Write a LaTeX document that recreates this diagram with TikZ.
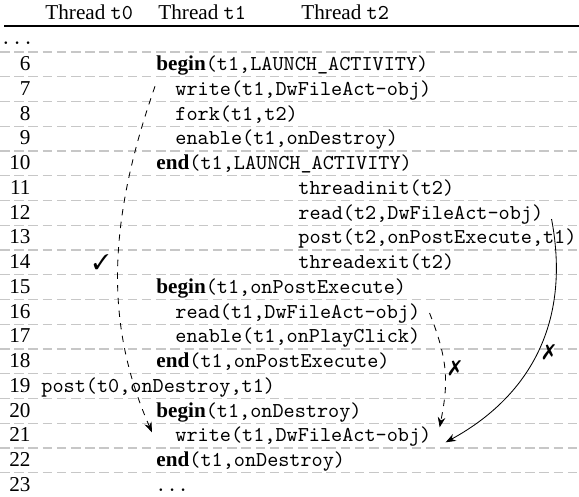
\documentclass[tikz,border=0pt]{standalone}
\usepackage{fontspec}
\setmainfont{Liberation Serif}
\usepackage{pifont}
\usetikzlibrary{arrows.meta}

\newcommand{\evbegin}[1]{\textbf{begin}\texttt{(#1)}}
\newcommand{\evend}[1]{\textbf{end}\texttt{(#1)}}

\begin{document}
\begin{tikzpicture}[>=Stealth, x=0.472pt, y=-0.472pt,
  num/.style={anchor=base east, inner sep=0pt},
  ev/.style={anchor=base west, inner sep=0pt},
  code/.style={anchor=base west, inner sep=0pt, font=\ttfamily},
  sep/.style={black!22, line width=0.5pt, dash pattern=on 4.5pt off 2.2pt},
  verdict/.style={inner sep=0pt}]
  \useasboundingbox (0,0) rectangle (579,496);

  % Header
  \node[ev] (h0) at (45,19) {Thread \texttt{t0}};
  \node[ev] (h1) at (158,19) {Thread \texttt{t1}};
  \node[ev] (h2) at (301,19) {Thread \texttt{t2}};
  \draw[line width=0.6pt] (4,26) -- (579,26);

  % Row separators and line numbers
  \foreach \k in {6,...,23}{
    \draw[sep] (0,{52+(\k-6)*24.75}) -- (579,{52+(\k-6)*24.75});
    \node[num] (n\k) at (31,{70.5+(\k-6)*24.75}) {\k};
  }
  \node[code] (dots0) at (0,44) {...};

  % --- Thread t1: LAUNCH_ACTIVITY ---
  \node[ev]   (b6)  at (156,70.5)  {\evbegin{t1,LAUNCH\_ACTIVITY}};
  \node[code] (w7)  at (175,95.25) {write(t1,DwFileAct-obj)};
  \node[code] (f8)  at (175,120)   {fork(t1,t2)};
  \node[code] (e9)  at (175,144.75){enable(t1,onDestroy)};
  \node[ev]   (d10) at (156,169.5) {\evend{t1,LAUNCH\_ACTIVITY}};

  % --- Thread t2 ---
  \node[code] (ti11) at (298,194.25) {threadinit(t2)};
  \node[code] (r12)  at (298,219)    {read(t2,DwFileAct-obj)};
  \node[code] (p13)  at (298,243.75) {post(t2,onPostExecute,t1)};
  \node[code] (tx14) at (298,268.5)  {threadexit(t2)};

  % --- Thread t1: onPostExecute ---
  \node[ev]   (b15) at (156,293.25) {\evbegin{t1,onPostExecute}};
  \node[code] (r16) at (175,318)    {read(t1,DwFileAct-obj)};
  \node[code] (e17) at (175,342.75) {enable(t1,onPlayClick)};
  \node[ev]   (d18) at (156,367.5)  {\evend{t1,onPostExecute}};

  % --- Thread t0 ---
  \node[code] (p19) at (41,392.25) {post(t0,onDestroy,t1)};

  % --- Thread t1: onDestroy ---
  \node[ev]   (b20) at (156,417)    {\evbegin{t1,onDestroy}};
  \node[code] (w21) at (175,441.75) {write(t1,DwFileAct-obj)};
  \node[ev]   (d22) at (156,466.5)  {\evend{t1,onDestroy}};
  \node[code] (dots23) at (155,491.25) {...};

  % Races
  \draw[->, dashed] ([shift={(-20,-4)}]w7.west)
    .. controls +(-49,140) and +(-46,-105) .. ([shift={(-23,-4.5)}]w21.west);
  \draw[->, dashed] ([shift={(9,0)}]r16.east)
    .. controls +(20,50) and +(8,-42) .. ([shift={(8,-9.5)}]w21.east);
  \draw[->] ([shift={(8,5)}]r12.east)
    .. controls +(21,111) and +(77,-42) .. ([shift={(14,5.5)}]w21.east);

  \node[verdict] (ok)  at (101,262) {\ding{51}};
  \node[verdict] (no1) at (455,368) {\ding{55}};
  \node[verdict] (no2) at (549,352) {\ding{55}};
\end{tikzpicture}
\end{document}
